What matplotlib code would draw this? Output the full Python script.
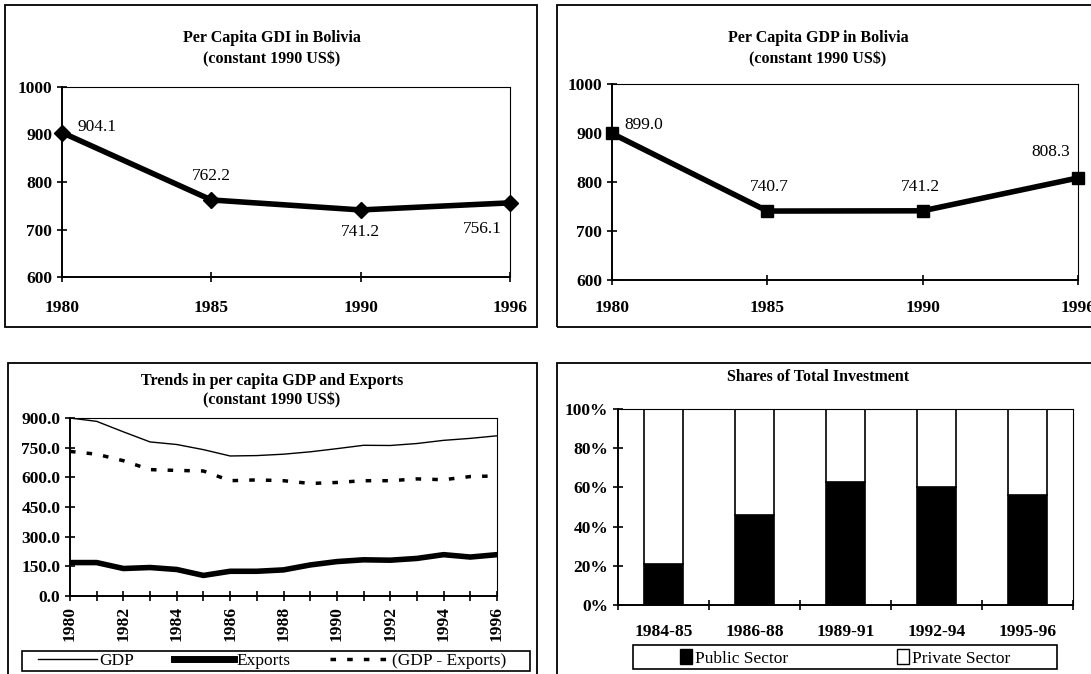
import numpy as np
import matplotlib.pyplot as plt
from matplotlib.patches import Rectangle, Patch
from matplotlib.lines import Line2D
from matplotlib.ticker import FuncFormatter

plt.rcParams['font.family'] = ['Liberation Serif', 'DejaVu Serif']

# top charts
pts = ['1980', '1985', '1990', '1996']
gdi = [904.1, 762.2, 741.2, 756.1]
gdp_pts = [899.0, 740.7, 741.2, 808.3]

# trends 1980-1996
years = list(range(1980, 1997))
gdp = [900, 883, 830, 779, 766, 740, 708, 710, 717, 729, 745, 762, 761, 771, 787, 797, 810]
exports = [169, 169, 139, 144, 134, 104, 125, 125, 132, 157, 174, 183, 181, 190, 209, 197, 209]
gdp_minus_exp = [731, 717, 684, 639, 635, 632, 583, 587, 583, 569, 574, 583, 583, 592, 588, 604, 607]

# investment shares
periods = ['1984-85', '1986-88', '1989-91', '1992-94', '1995-96']
public = [0.21, 0.46, 0.63, 0.60, 0.56]
private = [1 - p for p in public]

W, H = 1091, 674
TICK = 12.5
fig = plt.figure(figsize=(W / 100, H / 100), dpi=100)


def ax_at(l, t, r, b):
    return fig.add_axes([l / W, 1 - b / H, (r - l) / W, (b - t) / H])


def box(x1, y1, x2, y2, lw=1.3):
    fig.patches.append(Rectangle((x1 / W, 1 - y2 / H), (x2 - x1) / W, (y2 - y1) / H,
                                 transform=fig.transFigure, fill=False, lw=lw, ec='black'))


def title(cx, y, s):
    fig.text(cx / W, 1 - y / H, s, ha='center', va='center', fontsize=11.5, fontweight='bold')


def style(ax):
    for s in ax.spines.values():
        s.set_linewidth(0.8)
    ax.spines['left'].set_linewidth(1.4)
    ax.spines['bottom'].set_linewidth(1.4)
    ax.tick_params(direction='inout', length=7, width=1.2, labelsize=TICK)
    for lab in ax.get_xticklabels() + ax.get_yticklabels():
        lab.set_fontweight('bold')


# ---- top left: GDI
box(5, 5, 537, 327)
title(272, 38, 'Per Capita GDI in Bolivia')
title(272, 59, '(constant 1990 US$)')
ax1 = ax_at(62, 87, 510, 277)
x = np.arange(len(pts))
ax1.plot(x, gdi, color='black', lw=4, marker='D', ms=8, clip_on=False)
ax1.set_xlim(0, 3)
ax1.set_ylim(600, 1000)
ax1.set_yticks([600, 700, 800, 900, 1000])
ax1.set_xticks(x)
ax1.set_xticklabels(pts)
ax1.tick_params(axis='x', pad=13)
style(ax1)
offs1 = [(16, 6, 'left'), (0, 24, 'center'), (0, -22, 'center'), (-8, -26, 'right')]
for i, v in enumerate(gdi):
    dx, dy, ha = offs1[i]
    ax1.annotate(f'{v:.1f}', (i, v), xytext=(dx, dy), textcoords='offset pixels',
                 ha=ha, va='center', fontsize=12.5)

# ---- top right: GDP
box(557, 5, 1097, 327)
title(818, 38, 'Per Capita GDP in Bolivia')
title(818, 59, '(constant 1990 US$)')
ax2 = ax_at(612, 84, 1078, 280)
ax2.plot(x, gdp_pts, color='black', lw=4, marker='s', ms=9, clip_on=False)
ax2.set_xlim(0, 3)
ax2.set_ylim(600, 1000)
ax2.set_yticks([600, 700, 800, 900, 1000])
ax2.set_xticks(x)
ax2.set_xticklabels(pts)
ax2.tick_params(axis='x', pad=11)
style(ax2)
offs2 = [(12, 8, 'left'), (2, 24, 'center'), (-2, 24, 'center'), (-8, 26, 'right')]
for i, v in enumerate(gdp_pts):
    dx, dy, ha = offs2[i]
    ax2.annotate(f'{v:.1f}', (i, v), xytext=(dx, dy), textcoords='offset pixels',
                 ha=ha, va='center', fontsize=12.5)

# ---- bottom left: trends
box(8, 363, 537, 678)
title(272, 381, 'Trends in per capita GDP and Exports')
title(272, 400, '(constant 1990 US$)')
ax3 = ax_at(70, 418, 497, 596)
ax3.plot(years, gdp, color='black', lw=1)
ax3.plot(years, exports, color='black', lw=4)
ax3.plot(years, gdp_minus_exp, color='black', lw=2.5, ls=(0, (1.6, 3.2)))
ax3.set_xlim(1980, 1996)
ax3.set_ylim(0, 900)
ax3.set_yticks(np.arange(0, 901, 150))
ax3.yaxis.set_major_formatter(FuncFormatter(lambda v, p: f'{v:.1f}'))
ax3.set_xticks(years)
ax3.set_xticklabels([str(y) if y % 2 == 0 else '' for y in years], rotation=90)
style(ax3)
box(22, 651, 530, 671, lw=1.2)
handles3 = [Line2D([], [], color='black', lw=1),
            Line2D([], [], color='black', lw=5),
            Line2D([], [], color='black', lw=2.5, ls=(0, (1.6, 3.2)))]
fig.legend(handles3, ['GDP', 'Exports', '(GDP - Exports)'], ncol=3,
           loc='center', bbox_to_anchor=(272 / W, 1 - 661 / H),
           frameon=False, fontsize=12.5, handlelength=3.4, handletextpad=0.15,
           columnspacing=2.3, borderpad=0, borderaxespad=0)

# ---- bottom right: investment shares
box(557, 363, 1097, 678)
title(818, 377, 'Shares of Total Investment')
ax4 = ax_at(618, 409, 1073, 605)
xc = np.arange(len(periods)) + 0.5
ax4.bar(xc, public, width=0.42, color='black', edgecolor='black', lw=1.2)
ax4.bar(xc, private, width=0.42, bottom=public, color='white', edgecolor='black', lw=1.2)
ax4.set_xlim(0, 5)
ax4.set_ylim(0, 1)
ax4.set_yticks(np.arange(0, 1.01, 0.2))
ax4.yaxis.set_major_formatter(FuncFormatter(lambda v, p: f'{v * 100:.0f}%'))
ax4.set_xticks(np.arange(0, 6))
ax4.set_xticklabels([])
ax4.set_xticks(xc, minor=True)
ax4.set_xticklabels(periods, minor=True)
style(ax4)
ax4.tick_params(axis='x', which='minor', length=0, pad=14, labelsize=TICK)
for lab in ax4.get_xticklabels(minor=True):
    lab.set_fontweight('bold')
box(633, 645, 1057, 669, lw=1.2)
handles4 = [Patch(facecolor='black', edgecolor='black'),
            Patch(facecolor='white', edgecolor='black')]
fig.legend(handles4, ['Public Sector', 'Private Sector'], ncol=2,
           loc='center', bbox_to_anchor=(845 / W, 1 - 658 / H),
           frameon=False, fontsize=12.5, handlelength=0.7, handleheight=0.9,
           handletextpad=0.15, columnspacing=6.3, borderpad=0, borderaxespad=0)

fig.savefig('out.png', dpi=100)
